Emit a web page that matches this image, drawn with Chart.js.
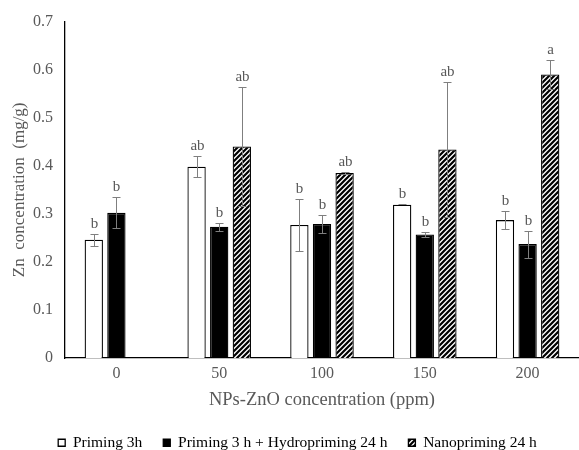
<!DOCTYPE html>
<html>
<head>
<meta charset="utf-8">
<script src="https://cdn.jsdelivr.net/npm/chart.js@4.4.1/dist/chart.umd.min.js"></script>
<style>
  html, body { margin: 0; padding: 0; background: #fff; }
  #wrap { width: 579px; height: 450px; }
</style>
</head>
<body>
<div id="wrap"><canvas id="chart" width="579" height="450"></canvas></div>
<script>
// data
const doses = ['0', '50', '100', '150', '200'];
const seriesNames = ['Priming 3h', 'Priming 3 h + Hydropriming 24 h', 'Nanopriming 24 h'];
const priming3h = [0.246, 0.398, 0.277, 0.319, 0.287];
const primingHydro = [0.302, 0.273, 0.279, 0.257, 0.237];
const nanopriming = [null, 0.440, 0.385, 0.434, 0.590];
const priming3hErr = [0.012, 0.022, 0.054, 0.001, 0.018];
const primingHydroErr = [0.032, 0.008, 0.019, 0.005, 0.028];
const nanoprimingErr = [null, 0.124, 0.002, 0.140, 0.030];
const priming3hLetters = ['b', 'ab', 'b', 'b', 'b'];
const primingHydroLetters = ['b', 'b', 'b', 'b', 'b'];
const nanoprimingLetters = [null, 'ab', 'ab', 'ab', 'a'];
const yTicks = [0, 0.1, 0.2, 0.3, 0.4, 0.5, 0.6, 0.7];

const serif = '"Liberation Serif", "Times New Roman", serif';
const grey = '#595959';

// diagonal hatch for the nanopriming bars
function makeHatch() {
    const c = document.createElement('canvas');
    c.width = 5; c.height = 5;
    const g = c.getContext('2d');
    g.fillStyle = '#fff';
    g.fillRect(0, 0, 5, 5);
    g.strokeStyle = '#000';
    g.lineWidth = 2.2;
    g.beginPath();
    g.moveTo(-1, 6); g.lineTo(6, -1);
    g.moveTo(-3, 3); g.lineTo(3, -3);
    g.moveTo(2, 8); g.lineTo(8, 2);
    g.stroke();
    return g.createPattern(c, 'repeat');
}
const ctx = document.getElementById('chart').getContext('2d');
const hatch = makeHatch();

const errors = [priming3hErr, primingHydroErr, nanoprimingErr];
const letters = [priming3hLetters, primingHydroLetters, nanoprimingLetters];

// error bars and significance letters
const errorBarPlugin = {
    id: 'errorBars',
    afterDatasetsDraw(chart) {
        const c = chart.ctx;
        const y = chart.scales.y;
        chart.data.datasets.forEach((ds, i) => {
            const meta = chart.getDatasetMeta(i);
            meta.data.forEach((bar, j) => {
                const v = ds.data[j];
                if (v == null) return;
                const e = errors[i][j] || 0;
                const x = Math.round(bar.x) + 0.5;
                const top = Math.round(y.getPixelForValue(v + e)) + 0.5;
                const bot = Math.round(y.getPixelForValue(v - e)) + 0.5;
                c.save();
                c.strokeStyle = '#7f7f7f';
                c.lineWidth = 1;
                c.beginPath();
                if (e > 0.0015) {
                    c.moveTo(x, top); c.lineTo(x, bot);
                    c.moveTo(x - 4, bot); c.lineTo(x + 4, bot);
                }
                c.moveTo(x - 4, top); c.lineTo(x + 4, top);
                c.stroke();
                const lab = letters[i][j];
                if (lab) {
                    c.fillStyle = grey;
                    c.font = '15px ' + serif;
                    c.textAlign = 'center';
                    c.textBaseline = 'bottom';
                    c.fillText(lab, x, top - 3);
                }
                c.restore();
            });
        });
    }
};

// keep the legend compact and place it like the original
const legendPlacer = {
    id: 'legendPlacer',
    afterInit(chart) {
        const lg = chart.legend;
        const fit = lg.fit;
        lg.fit = function () { fit.call(this); this.height = 34; };
    },
    afterLayout(chart) {
        const lg = chart.legend;
        lg.top = 414;
        lg.bottom = 450;
        lg.height = 36;
        lg.left += 8;
        lg.right += 8;
    }
};

new Chart(ctx, {
    type: 'bar',
    data: {
        labels: doses,
        datasets: [{
            label: seriesNames[0],
            data: priming3h,
            backgroundColor: '#ffffff',
            borderColor: '#000000',
            borderWidth: 1.3
        }, {
            label: seriesNames[1],
            data: primingHydro,
            backgroundColor: '#000000',
            borderColor: '#000000',
            borderWidth: 1.3
        }, {
            label: seriesNames[2],
            data: nanopriming,
            backgroundColor: hatch,
            borderColor: '#000000',
            borderWidth: 1.3
        }]
    },
    options: {
        responsive: false,
        animation: false,
        categoryPercentage: 0.66,
        barPercentage: 0.81,
        layout: { padding: { top: 12, right: 0, bottom: 0, left: 0 } },
        plugins: {
            tooltip: { enabled: false },
            legend: {
                position: 'bottom',
                labels: {
                    boxWidth: 7,
                    boxHeight: 7,
                    padding: 21,
                    color: '#000',
                    font: { family: serif, size: 15.5 }
                }
            }
        },
        scales: {
            x: {
                grid: { display: false, drawTicks: false },
                border: { color: '#000', width: 1.3 },
                ticks: { color: grey, font: { family: serif, size: 16 }, padding: 6 },
                title: {
                    display: true,
                    text: 'NPs-ZnO concentration (ppm)',
                    color: grey,
                    font: { family: serif, size: 18.5 },
                    padding: { top: 4, bottom: 5 }
                },
                afterFit(scale) { scale.height = 58; }
            },
            y: {
                min: 0,
                max: 0.7,
                afterBuildTicks(scale) { scale.ticks = yTicks.map(v => ({ value: v })); },
                grid: { display: false, drawTicks: false },
                border: { color: '#000', width: 1.3 },
                ticks: {
                    color: grey,
                    font: { family: serif, size: 16 },
                    padding: 12,
                    callback: v => String(Math.round(v * 10) / 10)
                },
                title: {
                    display: true,
                    text: 'Zn  concentration  (mg/g)',
                    color: grey,
                    font: { family: serif, size: 17 },
                    padding: { top: 9, bottom: 0 }
                },
                afterFit(scale) { scale.width = 65; }
            }
        }
    },
    plugins: [errorBarPlugin, legendPlacer]
});
</script>
</body>
</html>
